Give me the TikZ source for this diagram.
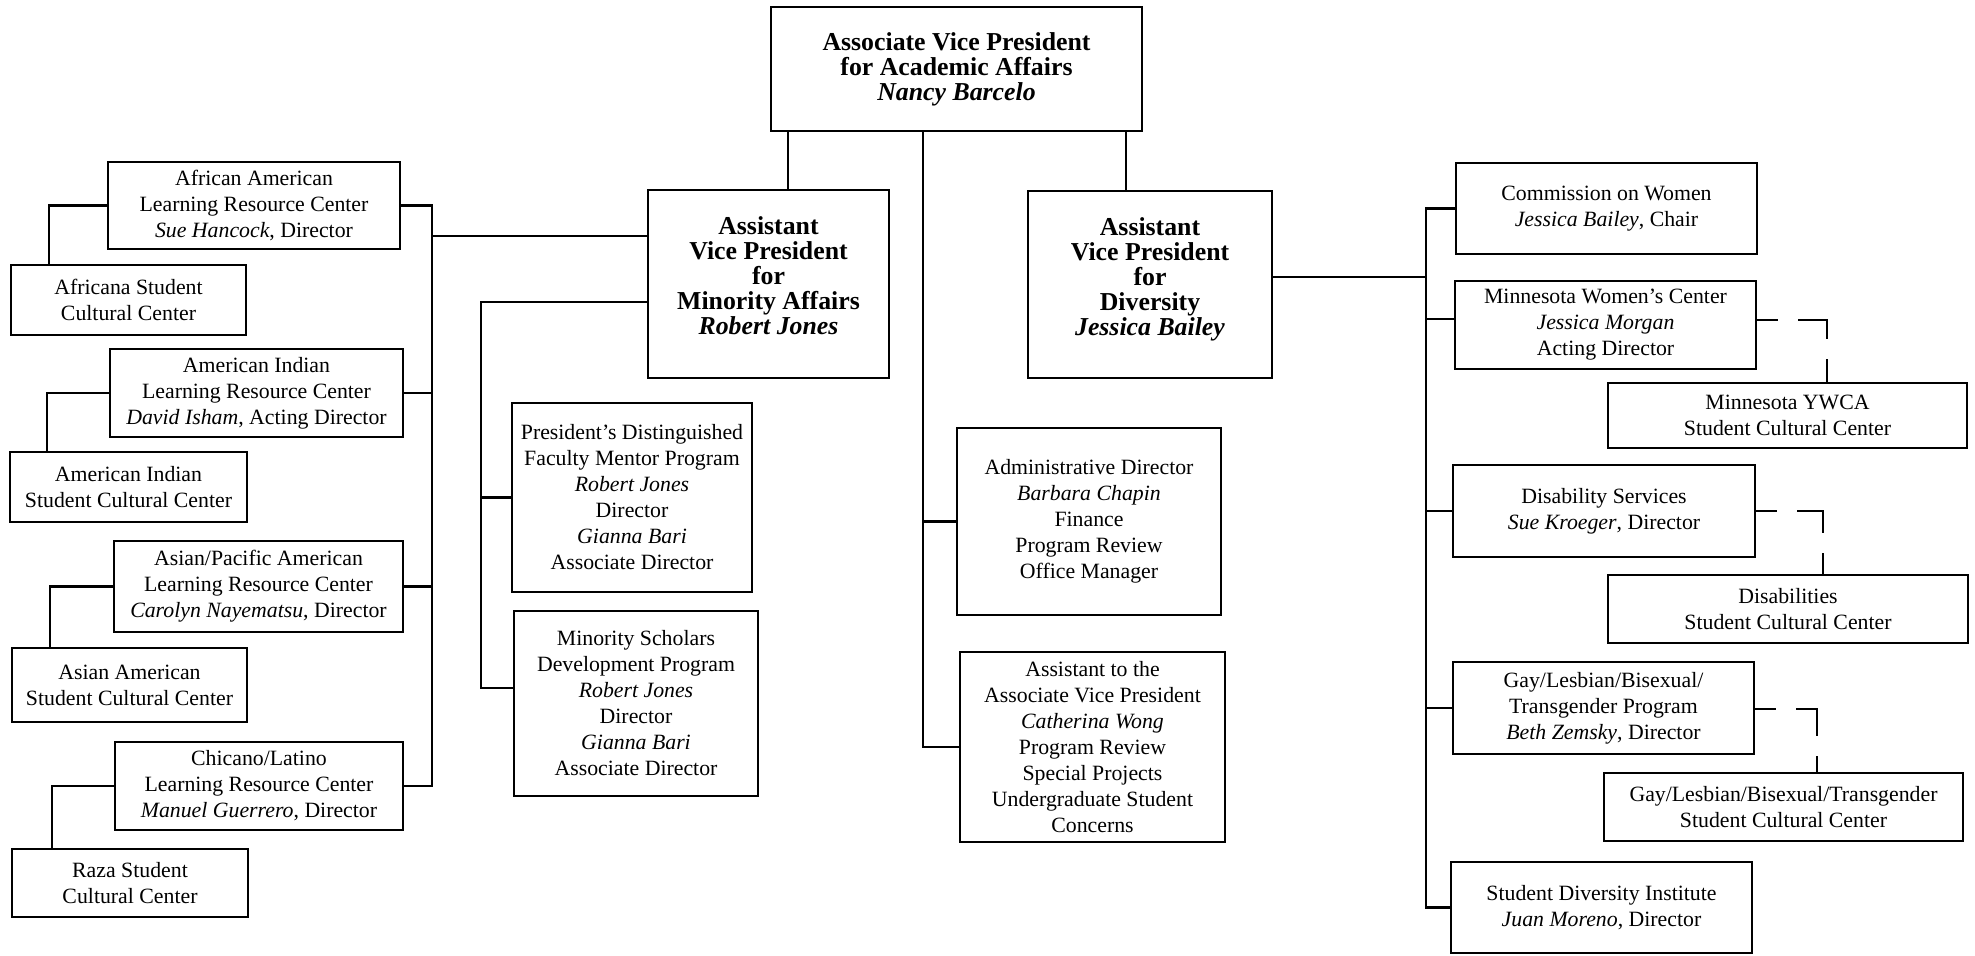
\documentclass[tikz,border=0pt]{standalone}
\usepackage{fontspec}
\setmainfont{Liberation Serif}
\usetikzlibrary{positioning}

% text sizes for ordinary boxes and for the three head boxes
\newcommand\orgreg{\fontsize{10.9pt}{13pt}\selectfont}
\newcommand\orghead{\bfseries\fontsize{12.9pt}{12.5pt}\selectfont}

\tikzset{
  box/.style={draw, rectangle, line width=1.45pt, inner sep=0pt, align=center, font=\orgreg},
  headbox/.style={box, font=\orghead},
  spanbox/.style 2 args={minimum width={#1*0.5pt}, minimum height={#2*0.5pt}},
  link/.style={line width=1.2pt, line join=miter},
  dlink/.style={link, dash pattern=on 10.5pt off 10pt on 24pt off 10pt on 30pt off 10pt},
}

\begin{document}
\begin{tikzpicture}[x=0.5pt, y=-0.5pt]
\path[fill=white] (0,0) rectangle (1975,955);
\useasboundingbox (0,0) rectangle (1975,955);

% ---- head of the office and the two assistant vice presidents
\node[headbox, spanbox={371}{124}] (avpaa) at (956.5,69)
  {Associate Vice President\\for Academic Affairs\\\textit{Nancy Barcelo}};
\node[headbox, spanbox={241}{188}, text depth=8pt] (avpma) at (768.5,284)
  {Assistant\\Vice President\\for\\Minority Affairs\\\textit{Robert Jones}};
\node[headbox, spanbox={244}{187}, text depth=8pt] (avpd) at (1150,284.5)
  {Assistant\\Vice President\\for\\Diversity\\\textit{Jessica Bailey}};

% ---- learning resource centers and student cultural centers
\node[box, spanbox={292}{87}] (aalrc) at (254,205.5)
  {African American\\Learning Resource Center\\\textit{Sue Hancock}, Director};
\node[box, spanbox={235}{70}] (afscc) at (128.5,300)
  {Africana Student\\Cultural Center};
\node[box, spanbox={293}{88}] (ailrc) at (256.5,393)
  {American Indian\\Learning Resource Center\\\textit{David Isham}, Acting Director};
\node[box, spanbox={237}{70}] (aiscc) at (128.5,487)
  {American Indian\\Student Cultural Center};
\node[box, spanbox={289}{91}] (aplrc) at (258.5,586.5)
  {Asian/Pacific American\\Learning Resource Center\\\textit{Carolyn Nayematsu}, Director};
\node[box, spanbox={235}{74}] (asscc) at (129.5,685)
  {Asian American\\Student Cultural Center};
\node[box, spanbox={288}{88}] (cllrc) at (259,786)
  {Chicano/Latino\\Learning Resource Center\\\textit{Manuel Guerrero}, Director};
\node[box, spanbox={236}{68}] (rzscc) at (130,883)
  {Raza Student\\Cultural Center};

% ---- minority affairs programs
\node[box, spanbox={240}{189}] (pdfmp) at (632,497.5)
  {President's Distinguished\\Faculty Mentor Program\\\textit{Robert Jones}\\Director\\\textit{Gianna Bari}\\Associate Director};
\node[box, spanbox={244}{185}] (msdp) at (636,703.5)
  {Minority Scholars\\Development Program\\\textit{Robert Jones}\\Director\\\textit{Gianna Bari}\\Associate Director};

% ---- staff of the associate vice president
\node[box, spanbox={264}{187}] (admin) at (1089,521.5)
  {Administrative Director\\\textit{Barbara Chapin}\\Finance\\Program Review\\Office Manager};
\node[box, spanbox={265}{190}] (asst) at (1092.5,747)
  {Assistant to the\\Associate Vice President\\\textit{Catherina Wong}\\Program Review\\Special Projects\\Undergraduate Student\\Concerns};

% ---- diversity units
\node[box, spanbox={301}{91}] (cow) at (1606.5,208.5)
  {Commission on Women\\\textit{Jessica Bailey}, Chair};
\node[box, spanbox={301}{88}] (mwc) at (1605.5,325)
  {Minnesota Women's Center\\\textit{Jessica Morgan}\\Acting Director};
\node[box, spanbox={359}{65}] (ywca) at (1787.5,415.5)
  {Minnesota YWCA\\Student Cultural Center};
\node[box, spanbox={302}{92}] (ds) at (1604,511)
  {Disability Services\\\textit{Sue Kroeger}, Director};
\node[box, spanbox={360}{68}] (dscc) at (1788,609)
  {Disabilities\\Student Cultural Center};
\node[box, spanbox={301}{92}] (glbt) at (1603.5,708)
  {Gay/Lesbian/Bisexual/\\Transgender Program\\\textit{Beth Zemsky}, Director};
\node[box, spanbox={359}{68}] (glbtscc) at (1783.5,807)
  {Gay/Lesbian/Bisexual/Transgender\\Student Cultural Center};
\node[box, spanbox={301}{91}] (sdi) at (1601.5,907.5)
  {Student Diversity Institute\\\textit{Juan Moreno}, Director};

% ---- bus lines
\coordinate (lbus) at (432,0);
\coordinate (mspine) at (481,0);
\coordinate (cspine) at (923,0);
\coordinate (rbus) at (1426,0);

% from the top box
\draw[link] (avpaa.south -| 788,0) -- (avpma.north -| 788,0);
\draw[link] (avpaa.south -| 1126,0) -- (avpd.north -| 1126,0);
\draw[link] (avpaa.south -| cspine) |- (asst.west);
\draw[link] (admin.west) -- (admin.west -| cspine);

% minority affairs: learning resource centers
\draw[link] (avpma.west |- 0,236) -- (lbus |- 0,236);
\draw[link] (aalrc.east) -- (aalrc.east -| lbus) -- (cllrc.east -| lbus) -- (cllrc.east);
\draw[link] (ailrc.east) -- (ailrc.east -| lbus);
\draw[link] (aplrc.east) -- (aplrc.east -| lbus);

% learning resource centers to their student cultural centers
\draw[link] (aalrc.west) -| (afscc.north -| 49,0);
\draw[link] (ailrc.west) -| (aiscc.north -| 47,0);
\draw[link] (aplrc.west) -| (asscc.north -| 50,0);
\draw[link] (cllrc.west) -| (rzscc.north -| 52,0);

% minority affairs: programs
\draw[link] (avpma.west |- 0,302) -| (mspine |- 0,688) -- (msdp.west |- 0,688);
\draw[link] (pdfmp.west) -- (pdfmp.west -| mspine);

% diversity units
\draw[link] (avpd.east |- 0,277) -- (rbus |- 0,277);
\draw[link] (cow.west) -- (cow.west -| rbus) -- (sdi.west -| rbus) -- (sdi.west);
\draw[link] (mwc.west |- 0,319) -- (rbus |- 0,319);
\draw[link] (ds.west) -- (ds.west -| rbus);
\draw[link] (glbt.west) -- (glbt.west -| rbus);

% dashed ties to the student cultural centers
\draw[dlink] (mwc.east |- 0,320) -| (ywca.north -| 1827,0);
\draw[dlink] (ds.east |- 0,511) -| (dscc.north -| 1823,0);
\draw[dlink] (glbt.east |- 0,709) -| (glbtscc.north -| 1817,0);
\end{tikzpicture}
\end{document}
